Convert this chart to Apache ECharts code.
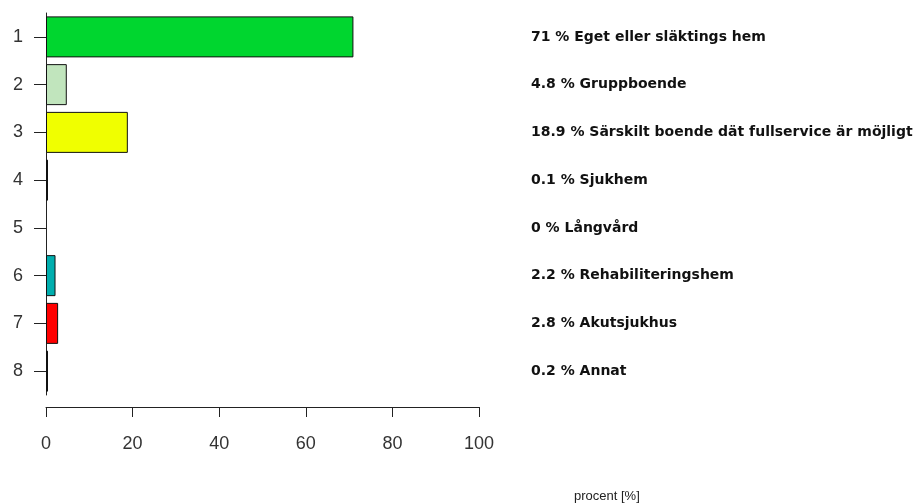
<!DOCTYPE html>
<html>
<head>
<meta charset="utf-8">
<script src="https://cdn.jsdelivr.net/npm/echarts@6/dist/echarts.min.js"></script>
<style>
  html, body { margin: 0; padding: 0; background: #fff; }
  #chart { width: 923px; height: 503px; }
</style>
</head>
<body>
<div id="chart"></div>
<script>
const categories = ['1', '2', '3', '4', '5', '6', '7', '8'];
const names = ['Eget eller släktings hem', 'Gruppboende', 'Särskilt boende dät fullservice är möjligt',
  'Sjukhem', 'Långvård', 'Rehabiliteringshem', 'Akutsjukhus', 'Annat'];
const values = [71, 4.8, 18.9, 0.1, 0, 2.2, 2.8, 0.2];
const barColors = ['#00D62F', '#C1E5BD', '#F0FF00', '#000000', 'transparent', '#00AEAE', '#FF0000', '#000000'];
const xTicks = [0, 20, 40, 60, 80, 100];

const chart = echarts.init(document.getElementById('chart'));

const option = {
  backgroundColor: '#fff',
  animation: false,
  title: {
    text: 'procent [%]',
    left: 569,
    top: 485,
    textStyle: { fontFamily: 'Liberation Sans', fontSize: 13, fontWeight: 'normal', color: '#222' }
  },
  grid: { left: 46, right: 444, top: 13, height: 382 },
  xAxis: {
    type: 'value',
    min: xTicks[0],
    max: xTicks[xTicks.length - 1],
    interval: 20,
    offset: 12,
    splitLine: { show: false },
    axisLine: { show: true, lineStyle: { color: '#222', width: 1 } },
    axisTick: { show: true, length: 10, lineStyle: { color: '#222' } },
    axisLabel: { margin: 28, fontFamily: 'Liberation Sans', fontSize: 18, color: '#333' }
  },
  yAxis: [{
    type: 'category',
    inverse: true,
    data: categories,
    axisLine: { show: true, lineStyle: { color: '#222', width: 1 } },
    axisTick: { show: true, alignWithLabel: true, length: 12, lineStyle: { color: '#222' } },
    axisLabel: { margin: 23, fontFamily: 'Liberation Sans', fontSize: 18, color: '#333' }
  }, {
    type: 'category',
    inverse: true,
    position: 'right',
    data: categories.map((c, i) => values[i] + ' % ' + names[i]),
    axisLine: { show: false },
    axisTick: { show: false },
    axisLabel: {
      margin: 52, align: 'left',
      fontFamily: 'DejaVu Sans', fontSize: 14, fontWeight: 'bold', color: '#111'
    }
  }],
  series: [{
    type: 'bar',
    barWidth: 41,
    barMinHeight: 2,
    data: values.map((v, i) => ({
      value: v,
      itemStyle: { color: barColors[i], borderColor: '#111', borderWidth: v > 0 ? 1 : 0 }
    }))
  }]
};

chart.setOption(option);
</script>
</body>
</html>
